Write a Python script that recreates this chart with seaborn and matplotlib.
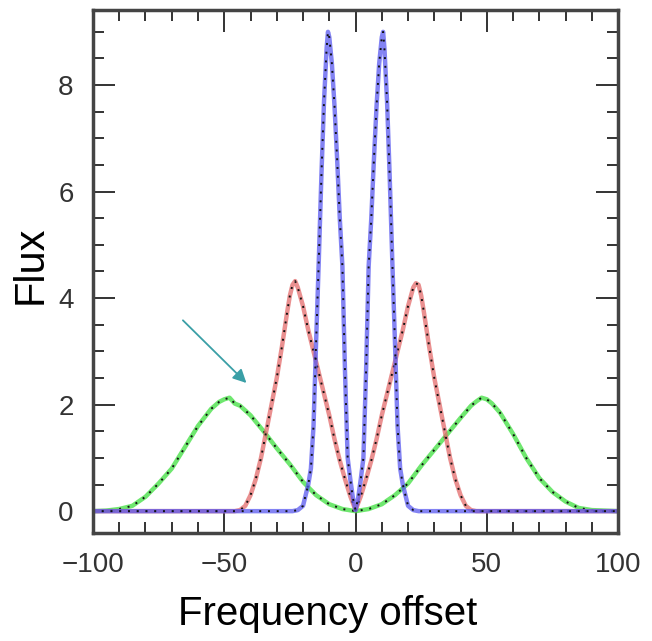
import numpy as np
import pandas as pd
import matplotlib
matplotlib.use('Agg')
import matplotlib.pyplot as plt
import seaborn as sns
from matplotlib.ticker import MultipleLocator

# values
blue_x = [-100, -60, -30, -24, -22, -20, -19, -18, -17, -16, -15, -14, -13, -12, -11, -10.5, -10,
          -9, -8, -7, -6, -5, -4, -3, -2, -1, 0,
          1, 2, 3, 4, 5, 6, 7, 8, 9, 10, 10.5, 11, 12, 13, 14, 15, 16, 17, 18, 19, 20, 22, 24, 30, 60, 100]
blue_y = [0.0, 0.0, 0.0, 0.0, 0.02, 0.1, 0.3, 0.5, 0.8, 1.6, 3.2, 4.7, 6.3, 7.7, 8.7, 9.0, 8.9,
          8.4, 7.6, 6.6, 5.5, 4.6, 2.6, 1.0, 0.6, 0.25, 0.02,
          0.25, 0.6, 1.0, 2.6, 4.6, 5.5, 6.6, 7.6, 8.4, 8.9, 9.0, 8.7, 7.7, 6.3, 4.7, 3.2, 1.6, 0.8, 0.5, 0.3, 0.1, 0.02, 0.0, 0.0, 0.0, 0.0]

red_x = [-100, -70, -50, -46, -44, -42, -40, -38, -36, -34, -32, -30, -28, -26, -25, -24, -23, -22,
         -20, -18, -16, -14, -12, -10, -8, -6, -4, -2, 0,
         2, 4, 6, 8, 10, 12, 14, 16, 18, 20, 22, 23, 24, 25, 26, 28, 30, 32, 34, 36, 38, 40, 42, 44, 46, 50, 70, 100]
red_y = [0.0, 0.0, 0.0, 0.0, 0.02, 0.1, 0.3, 0.6, 1.0, 1.5, 2.0, 2.5, 3.1, 3.75, 4.05, 4.25, 4.32, 4.2,
         3.85, 3.4, 3.0, 2.6, 2.2, 1.8, 1.35, 0.95, 0.6, 0.28, 0.02,
         0.28, 0.6, 0.95, 1.35, 1.8, 2.2, 2.6, 3.0, 3.4, 3.85, 4.2, 4.28, 4.25, 4.05, 3.75, 3.1, 2.5, 2.0, 1.5, 1.0, 0.6, 0.3, 0.1, 0.02, 0.0, 0.0, 0.0, 0.0]

green_x = [-100, -95, -90, -85, -80, -75, -70, -65, -60, -55, -52, -50, -48, -46, -44,
           -40, -35, -30, -25, -20, -15, -10, -5, 0,
           5, 10, 15, 20, 25, 30, 35, 40, 44, 46, 48, 50, 52, 55, 60, 65, 70, 75, 80, 85, 90, 95, 100]
green_y = [0.0, 0.01, 0.04, 0.1, 0.27, 0.52, 0.8, 1.2, 1.6, 1.92, 2.05, 2.1, 2.13, 2.02, 1.98,
           1.8, 1.5, 1.18, 0.88, 0.55, 0.3, 0.13, 0.04, 0.0,
           0.04, 0.13, 0.3, 0.52, 0.85, 1.15, 1.45, 1.75, 1.98, 2.06, 2.13, 2.1, 2.02, 1.85, 1.45, 1.0, 0.62, 0.36, 0.18, 0.06, 0.02, 0.01, 0.0]

xticks = [-100, -50, 0, 50, 100]
yticks = [0, 2, 4, 6, 8]

df = pd.concat([
    pd.DataFrame({'offset': green_x, 'flux': green_y, 'line': 'green'}),
    pd.DataFrame({'offset': red_x, 'flux': red_y, 'line': 'red'}),
    pd.DataFrame({'offset': blue_x, 'flux': blue_y, 'line': 'blue'}),
])

sns.set_style('ticks')
plt.rcParams['font.family'] = ['Liberation Sans', 'DejaVu Sans']

fig = plt.figure(figsize=(6.52, 6.41), dpi=100)
ax = fig.add_axes([0.1426, 0.1685, 0.8054, 0.8159])

colors = {'green': '#3fe03f', 'red': '#e36b6b', 'blue': '#5a5af0'}
for name, sub in df.groupby('line', sort=False):
    sns.lineplot(data=sub, x='offset', y='flux', color=colors[name], lw=3.2, alpha=0.75,
                 estimator=None, sort=False, ax=ax)
    sns.lineplot(data=sub, x='offset', y='flux', color='#111111', lw=1.4,
                 linestyle=(0, (1, 3.5)), estimator=None, sort=False, ax=ax)

ax.annotate('', xy=(-40.8, 2.37), xytext=(-66.5, 3.62),
            arrowprops=dict(arrowstyle='-|>', color='#3a9fa6', lw=1.3, mutation_scale=20))

ax.set_xlim(-100, 100)
ax.set_ylim(-0.41, 9.41)
ax.set_xticks(xticks)
ax.set_yticks(yticks)
ax.xaxis.set_minor_locator(MultipleLocator(10))
ax.yaxis.set_minor_locator(MultipleLocator(0.5))
ax.tick_params(which='both', direction='in', top=True, right=True, colors='#333333')
ax.tick_params(which='major', length=16, width=1.4, labelsize=20, pad=14)
ax.tick_params(which='minor', length=8, width=1.4)
ax.set_xticklabels(['\u2212100', '\u221250', '0', '50', '100'])
for sp in ax.spines.values():
    sp.set_linewidth(2.5)
    sp.set_color('#444444')

ax.set_xlabel('Frequency offset', fontsize=29, color='black')
ax.set_ylabel('Flux', fontsize=30, color='black')
ax.xaxis.set_label_coords(0.447, -0.118)
ax.yaxis.set_label_coords(-0.08, 0.512)

fig.savefig('out.png', dpi=100)
